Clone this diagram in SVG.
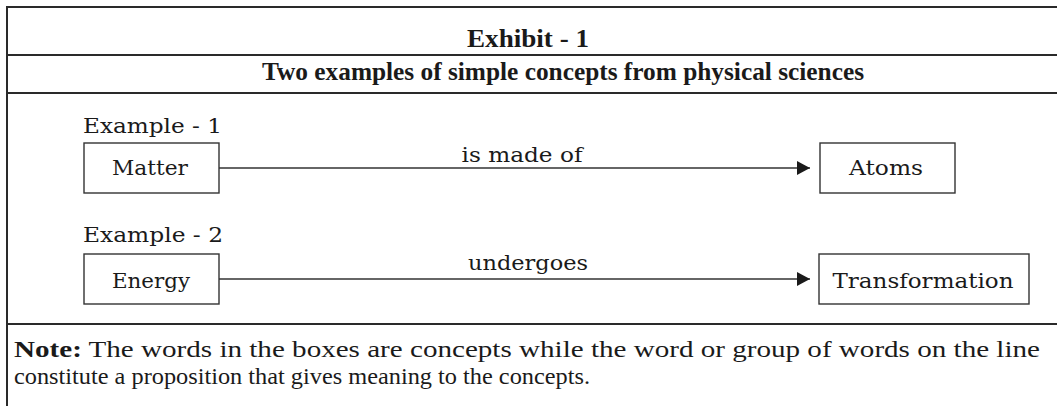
<svg xmlns="http://www.w3.org/2000/svg" width="1057" height="406" viewBox="0 0 1057 406">
<defs>
<style>
.frame{stroke:#2a2a2a;stroke-width:2;fill:none}
.box{fill:#fff;stroke:#333;stroke-width:1.4}
.conn{stroke:#333;stroke-width:1.6;fill:none}
.lbl{font-family:"DejaVu Serif","Liberation Serif",serif;font-size:21px;fill:#1a1a1a}
.hd{font-family:"Liberation Serif",serif;font-weight:bold;font-size:25px;fill:#1a1a1a}
.note{font-family:"Liberation Serif",serif;font-size:23px;fill:#1a1a1a}
</style>
<marker id="arr" markerWidth="13" markerHeight="14" refX="13" refY="7" orient="auto" markerUnits="userSpaceOnUse">
<path d="M0,0 L13,7 L0,14 Z" fill="#1a1a1a"/>
</marker>
</defs>
<rect width="1057" height="406" fill="#fff"/>
<g id="frame">
<line class="frame" x1="7" y1="7" x2="1057" y2="7"/>
<line class="frame" x1="7" y1="6" x2="7" y2="406"/>
<line class="frame" x1="7" y1="55" x2="1057" y2="55"/>
<line class="frame" x1="7" y1="93" x2="1057" y2="93"/>
<line class="frame" x1="7" y1="324" x2="1057" y2="324"/>
</g>
<g id="header">
<text class="hd" x="528" y="47" text-anchor="middle" textLength="122" lengthAdjust="spacingAndGlyphs">Exhibit - 1</text>
<text class="hd" x="563" y="80" text-anchor="middle" textLength="602" lengthAdjust="spacingAndGlyphs">Two examples of simple concepts from physical sciences</text>
</g>
<text class="lbl" x="83" y="133" textLength="139" lengthAdjust="spacingAndGlyphs">Example - 1</text>
<text class="lbl" x="83" y="242" textLength="140" lengthAdjust="spacingAndGlyphs">Example - 2</text>
<g id="connectors">
<line class="conn" x1="219" y1="168" x2="810" y2="168" marker-end="url(#arr)"/>
<text class="lbl" x="522" y="162" text-anchor="middle" textLength="121" lengthAdjust="spacingAndGlyphs">is made of</text>
<line class="conn" x1="219" y1="279" x2="810" y2="279" marker-end="url(#arr)"/>
<text class="lbl" x="528" y="270" text-anchor="middle" textLength="120" lengthAdjust="spacingAndGlyphs">undergoes</text>
</g>
<g id="matter">
<rect class="box" x="84" y="143" width="135" height="50"/>
<text class="lbl" x="150" y="175" text-anchor="middle" textLength="76" lengthAdjust="spacingAndGlyphs">Matter</text>
</g>
<g id="atoms">
<rect class="box" x="820" y="143" width="135" height="50"/>
<text class="lbl" x="886" y="175" text-anchor="middle" textLength="74" lengthAdjust="spacingAndGlyphs">Atoms</text>
</g>
<g id="energy">
<rect class="box" x="84" y="254" width="135" height="50"/>
<text class="lbl" x="151" y="288" text-anchor="middle" textLength="78" lengthAdjust="spacingAndGlyphs">Energy</text>
</g>
<g id="transformation">
<rect class="box" x="819" y="254" width="210" height="50"/>
<text class="lbl" x="923" y="288" text-anchor="middle" textLength="181" lengthAdjust="spacingAndGlyphs">Transformation</text>
</g>
<g id="note">
<text class="note" x="14" y="357" textLength="1026" lengthAdjust="spacingAndGlyphs"><tspan font-weight="bold">Note:</tspan> The words in the boxes are concepts while the word or group of words on the line</text>
<text class="note" x="14" y="384" textLength="576" lengthAdjust="spacingAndGlyphs">constitute a proposition that gives meaning to the concepts.</text>
</g>
</svg>
